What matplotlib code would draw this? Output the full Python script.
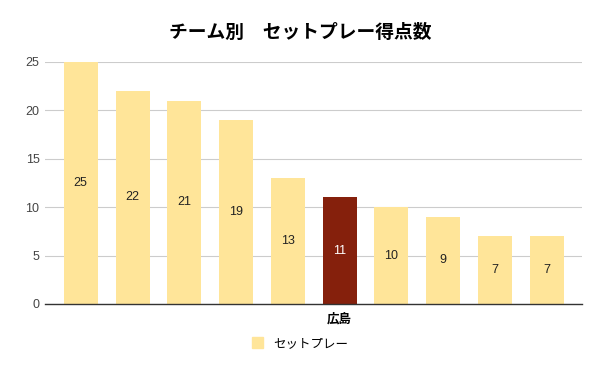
import matplotlib
matplotlib.use("Agg")
import matplotlib.pyplot as plt
from matplotlib.patches import Patch

plt.rcParams['font.family'] = ['Liberation Sans', 'Noto Sans CJK JP', 'DejaVu Sans']

teams = ['', '', '', '', '', '広島', '', '', '', '']
goals = [25, 22, 21, 19, 13, 11, 10, 9, 7, 7]
highlight = '広島'

light = '#FFE599'
dark = '#85200C'

fig = plt.figure(figsize=(6, 3.71), dpi=100)
ax = fig.add_axes([0.075, 0.1806, 0.895, 0.6524])

x = list(range(len(goals)))
colors = [dark if t == highlight else light for t in teams]
ax.bar(x, goals, width=0.656, color=colors, zorder=2)

for xi, v, c in zip(x, goals, colors):
    ax.text(xi, v / 2, str(v), ha='center', va='center', fontsize=9,
            color='white' if c == dark else '#222222', zorder=3)

ax.set_xlim(-0.69, len(goals) - 1 + 0.68)
ax.set_ylim(0, 25)
ax.set_yticks([0, 5, 10, 15, 20, 25])
ax.yaxis.grid(True, color='#CCCCCC', linewidth=0.8, zorder=0)
ax.set_xticks(x)
ax.set_xticklabels(teams, fontsize=9, fontweight='bold',
                   family=['Noto Sans CJK JP', 'DejaVu Sans'])
ax.tick_params(axis='x', length=0, pad=6)
ax.tick_params(axis='y', length=0, labelsize=9, labelcolor='#444444', pad=4)
for s in ['top', 'right', 'left']:
    ax.spines[s].set_visible(False)
ax.spines['bottom'].set_color('#333333')
ax.spines['bottom'].set_linewidth(1)
ax.spines['bottom'].set_zorder(4)

fig.text(0.5, 0.912, 'チーム別\u3000セットプレー得点数', ha='center', va='center',
         fontsize=13.5, fontweight='bold',
         family=['Noto Sans CJK JP', 'DejaVu Sans'])

fig.legend(handles=[Patch(color=light)], labels=['セットプレー'],
           loc='center', bbox_to_anchor=(0.5, 0.075), frameon=False,
           handlelength=0.9, handleheight=0.9, handletextpad=0.8,
           prop={'family': ['Noto Sans CJK JP', 'DejaVu Sans'], 'size': 9})

fig.savefig('out.png', dpi=100)
